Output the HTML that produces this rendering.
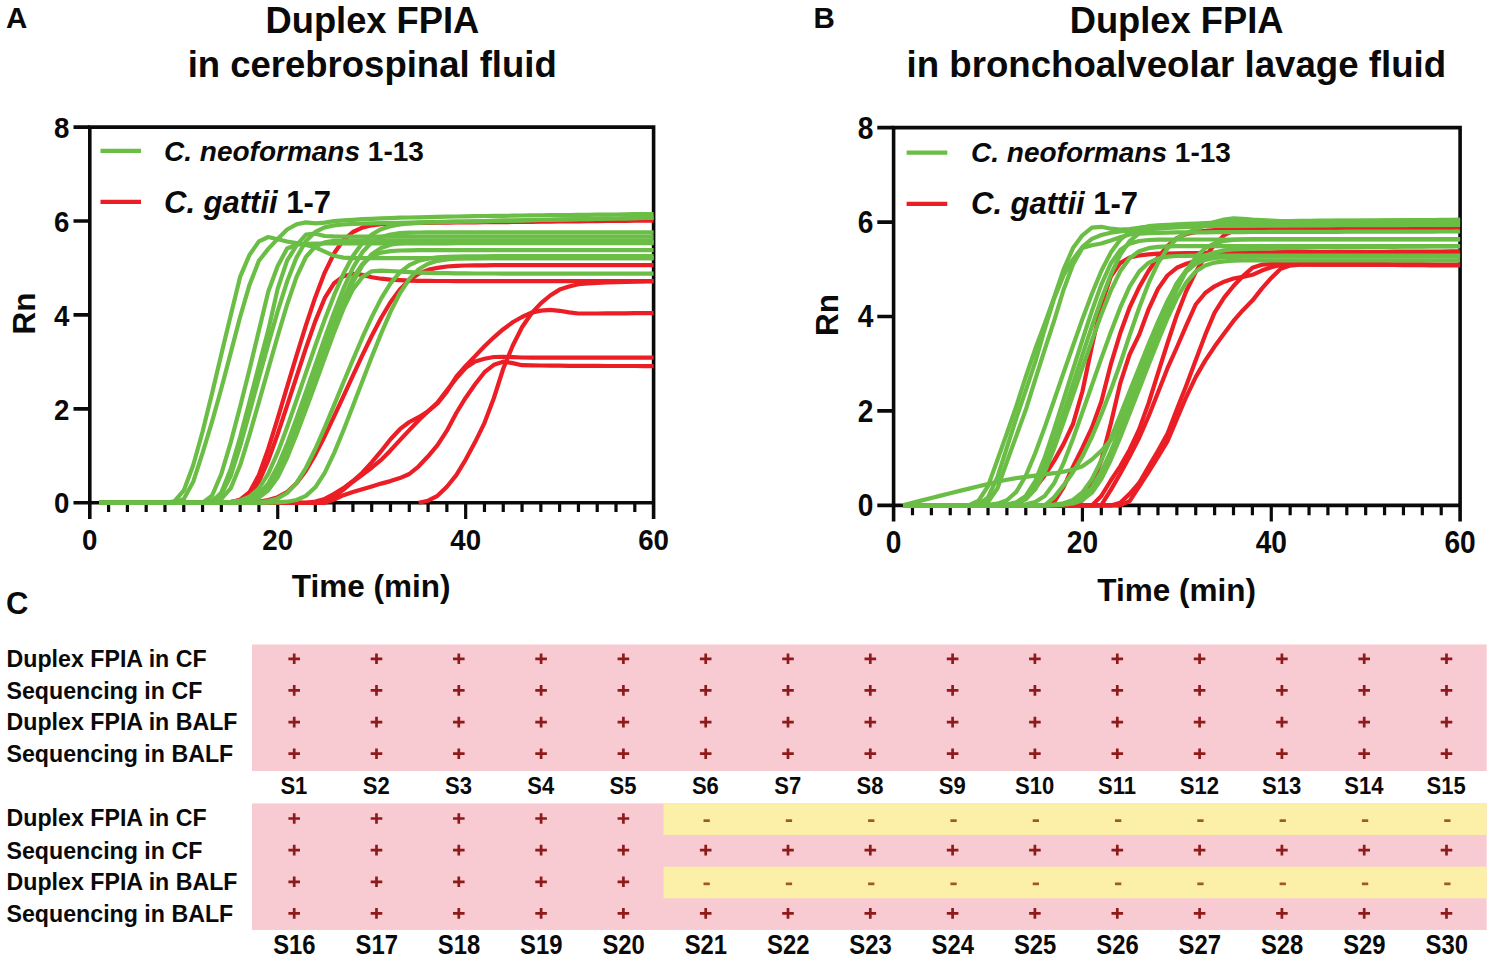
<!DOCTYPE html>
<html><head><meta charset="utf-8"><title>Duplex FPIA</title>
<style>
html,body{margin:0;padding:0;background:#fff;}
body{width:1494px;height:961px;overflow:hidden;}
svg{display:block;font-family:'Liberation Sans', sans-serif;}
text{fill:#0a0a0a;}
</style></head><body>
<svg width="1494" height="961" viewBox="0 0 1494 961">
<rect width="1494" height="961" fill="#fff"/>
<text x="5.9" y="27.7" font-size="29.5" font-weight="bold">A</text>
<text x="372.4" y="32.8" font-size="36.3" font-weight="bold" text-anchor="middle">Duplex FPIA</text>
<text x="372.2" y="76.6" font-size="36.5" font-weight="bold" text-anchor="middle">in cerebrospinal fluid</text>
<path d="M89.8,127.1 H653.6 V518.9 M89.8,125.3 V518.9" fill="none" stroke="#0a0a0a" stroke-width="3.6" stroke-linecap="butt" stroke-linejoin="miter"/>
<path d="M89.8,502.8 H653.6" stroke="#0a0a0a" stroke-width="3.6"/>
<path d="M73.5,502.8 H89.8 M73.5,408.9 H89.8 M73.5,314.9 H89.8 M73.5,221.0 H89.8 M73.5,127.1 H89.8 " stroke="#0a0a0a" stroke-width="3.6"/>
<path d="M108.59,502.8 V512.1 M127.39,502.8 V512.1 M146.18,502.8 V512.1 M164.97,502.8 V512.1 M183.77,502.8 V512.1 M202.56,502.8 V512.1 M221.35,502.8 V512.1 M240.15,502.8 V512.1 M258.94,502.8 V512.1 M277.73,502.8 V518.9 M296.53,502.8 V512.1 M315.32,502.8 V512.1 M334.11,502.8 V512.1 M352.91,502.8 V512.1 M371.70,502.8 V512.1 M390.49,502.8 V512.1 M409.29,502.8 V512.1 M428.08,502.8 V512.1 M446.87,502.8 V512.1 M465.67,502.8 V518.9 M484.46,502.8 V512.1 M503.25,502.8 V512.1 M522.05,502.8 V512.1 M540.84,502.8 V512.1 M559.63,502.8 V512.1 M578.43,502.8 V512.1 M597.22,502.8 V512.1 M616.01,502.8 V512.1 M634.81,502.8 V512.1 " stroke="#0a0a0a" stroke-width="3.2"/>
<text transform="translate(69.3,513.4) scale(0.97,1.04)" font-size="28.5" font-weight="bold" text-anchor="end">0</text>
<text transform="translate(69.3,419.5) scale(0.97,1.04)" font-size="28.5" font-weight="bold" text-anchor="end">2</text>
<text transform="translate(69.3,325.6) scale(0.97,1.04)" font-size="28.5" font-weight="bold" text-anchor="end">4</text>
<text transform="translate(69.3,231.6) scale(0.97,1.04)" font-size="28.5" font-weight="bold" text-anchor="end">6</text>
<text transform="translate(69.3,137.7) scale(0.97,1.04)" font-size="28.5" font-weight="bold" text-anchor="end">8</text>
<text transform="translate(89.8,549.8) scale(0.97,1.04)" font-size="28.5" font-weight="bold" text-anchor="middle">0</text>
<text transform="translate(277.7,549.8) scale(0.97,1.04)" font-size="28.5" font-weight="bold" text-anchor="middle">20</text>
<text transform="translate(465.7,549.8) scale(0.97,1.04)" font-size="28.5" font-weight="bold" text-anchor="middle">40</text>
<text transform="translate(653.6,549.8) scale(0.97,1.04)" font-size="28.5" font-weight="bold" text-anchor="middle">60</text>
<text x="371.1" y="597.2" font-size="31.5" font-weight="bold" text-anchor="middle">Time (min)</text>
<text transform="translate(34.9,313.5) rotate(-90)" font-size="31.5" font-weight="bold" text-anchor="middle">Rn</text>
<path d="M99.2,502.8 L108.6,502.8 L118.0,502.8 L127.4,502.8 L136.8,502.8 L146.2,502.8 L155.6,502.8 L165.0,502.8 L174.4,502.8 L183.8,502.8 L193.2,502.8 L202.6,502.8 L212.0,502.8 L221.4,502.7 L230.8,502.0 L240.1,499.7 L249.5,492.2 L258.9,475.0 L268.3,448.7 L277.7,418.4 L287.1,386.9 L296.5,355.7 L305.9,325.4 L315.3,297.2 L324.7,272.6 L334.1,253.3 L343.5,240.0 L352.9,232.0 L362.3,227.6 L371.7,225.3 L381.1,224.2 L390.5,223.6 L399.9,223.3 L409.3,223.1 L418.7,223.0 L428.1,222.8 L437.5,222.7 L446.9,222.6 L456.3,222.5 L465.7,222.4 L475.1,222.3 L484.5,222.2 L493.9,222.2 L503.3,222.1 L512.7,222.0 L522.0,221.9 L531.4,221.8 L540.8,221.7 L550.2,221.6 L559.6,221.5 L569.0,221.4 L578.4,221.3 L587.8,221.2 L597.2,221.1 L606.6,221.0 L616.0,220.9 L625.4,220.8 L634.8,220.7 L644.2,220.6 L653.6,220.6" fill="none" stroke="#eb1d25" stroke-width="4.2" stroke-linejoin="round" stroke-linecap="butt"/>
<path d="M99.2,502.8 L108.6,502.8 L118.0,502.8 L127.4,502.8 L136.8,502.8 L146.2,502.8 L155.6,502.8 L165.0,502.8 L174.4,502.8 L183.8,502.8 L193.2,502.8 L202.6,502.8 L212.0,502.8 L221.4,502.6 L230.8,502.0 L240.1,500.2 L249.5,494.6 L258.9,481.7 L268.3,460.4 L277.7,434.0 L287.1,405.6 L296.5,376.8 L305.9,348.2 L315.3,321.1 L324.7,298.2 L334.1,283.2 L343.5,276.2 L352.9,273.8 L362.3,274.8 L371.7,277.2 L381.1,278.7 L390.5,279.7 L399.9,280.2 L409.3,280.6 L418.7,280.8 L428.1,280.9 L437.5,281.0 L446.9,281.0 L456.3,281.1 L465.7,281.1 L475.1,281.1 L484.5,281.1 L493.9,281.1 L503.3,281.1 L512.7,281.1 L522.0,281.1 L531.4,281.1 L540.8,281.1 L550.2,281.1 L559.6,281.1 L569.0,281.1 L578.4,281.1 L587.8,281.1 L597.2,281.1 L606.6,281.1 L616.0,281.1 L625.4,281.1 L634.8,281.1 L644.2,281.1 L653.6,281.1" fill="none" stroke="#eb1d25" stroke-width="4.2" stroke-linejoin="round" stroke-linecap="butt"/>
<path d="M99.2,502.8 L108.6,502.8 L118.0,502.8 L127.4,502.8 L136.8,502.8 L146.2,502.8 L155.6,502.8 L165.0,502.8 L174.4,502.8 L183.8,502.8 L193.2,502.8 L202.6,502.8 L212.0,502.8 L221.4,502.8 L230.8,502.7 L240.1,502.5 L249.5,502.2 L258.9,501.5 L268.3,500.1 L277.7,497.2 L287.1,492.0 L296.5,483.3 L305.9,470.7 L315.3,454.6 L324.7,436.2 L334.1,416.4 L343.5,396.1 L352.9,375.6 L362.3,355.4 L371.7,336.0 L381.1,318.0 L390.5,302.2 L399.9,289.4 L409.3,280.0 L418.7,273.7 L428.1,269.9 L437.5,267.8 L446.9,266.5 L456.3,265.9 L465.7,265.5 L475.1,265.4 L484.5,265.3 L493.9,265.2 L503.3,265.2 L512.7,265.2 L522.0,265.2 L531.4,265.2 L540.8,265.2 L550.2,265.2 L559.6,265.2 L569.0,265.2 L578.4,265.2 L587.8,265.2 L597.2,265.2 L606.6,265.2 L616.0,265.2 L625.4,265.2 L634.8,265.2 L644.2,265.2 L653.6,265.2" fill="none" stroke="#eb1d25" stroke-width="4.2" stroke-linejoin="round" stroke-linecap="butt"/>
<path d="M99.2,502.8 L108.6,502.8 L118.0,502.8 L127.4,502.8 L136.8,502.8 L146.2,502.8 L155.6,502.8 L165.0,502.8 L174.4,502.8 L183.8,502.8 L193.2,502.8 L202.6,502.8 L212.0,502.8 L221.4,502.8 L230.8,502.8 L240.1,502.8 L249.5,502.8 L258.9,502.8 L268.3,502.8 L277.7,502.8 L287.1,502.8 L296.5,502.8 L305.9,502.8 L315.3,501.6 L324.7,498.9 L334.1,493.9 L343.5,488.1 L352.9,481.0 L362.3,472.7 L371.7,462.4 L381.1,451.2 L390.5,439.2 L399.9,429.2 L409.3,422.0 L418.7,417.2 L428.1,411.2 L437.5,403.5 L446.9,391.6 L456.3,376.7 L465.7,366.0 L475.1,356.1 L484.5,346.2 L493.9,337.3 L503.3,329.2 L512.7,322.3 L522.0,317.0 L531.4,312.7 L540.8,310.6 L550.2,309.8 L559.6,310.8 L569.0,312.4 L578.4,313.5 L587.8,313.5 L597.2,313.5 L606.6,313.4 L616.0,313.4 L625.4,313.3 L634.8,313.2 L644.2,313.1 L653.6,313.1" fill="none" stroke="#eb1d25" stroke-width="4.2" stroke-linejoin="round" stroke-linecap="butt"/>
<path d="M99.2,502.8 L108.6,502.8 L118.0,502.8 L127.4,502.8 L136.8,502.8 L146.2,502.8 L155.6,502.8 L165.0,502.8 L174.4,502.8 L183.8,502.8 L193.2,502.8 L202.6,502.8 L212.0,502.8 L221.4,502.8 L230.8,502.8 L240.1,502.8 L249.5,502.8 L258.9,502.8 L268.3,502.8 L277.7,502.8 L287.1,502.8 L296.5,502.8 L305.9,502.8 L315.3,502.8 L324.7,500.8 L334.1,496.7 L343.5,489.6 L352.9,481.7 L362.3,474.7 L371.7,467.7 L381.1,459.9 L390.5,450.4 L399.9,440.1 L409.3,430.1 L418.7,420.3 L428.1,411.2 L437.5,402.6 L446.9,390.2 L456.3,378.4 L465.7,367.8 L475.1,361.4 L484.5,358.7 L493.9,357.0 L503.3,356.8 L512.7,357.1 L522.0,357.5 L531.4,357.7 L540.8,357.7 L550.2,357.7 L559.6,357.7 L569.0,357.7 L578.4,357.7 L587.8,357.7 L597.2,357.7 L606.6,357.7 L616.0,357.7 L625.4,357.7 L634.8,357.7 L644.2,357.7 L653.6,357.7" fill="none" stroke="#eb1d25" stroke-width="4.2" stroke-linejoin="round" stroke-linecap="butt"/>
<path d="M99.2,502.8 L108.6,502.8 L118.0,502.8 L127.4,502.8 L136.8,502.8 L146.2,502.8 L155.6,502.8 L165.0,502.8 L174.4,502.8 L183.8,502.8 L193.2,502.8 L202.6,502.8 L212.0,502.8 L221.4,502.8 L230.8,502.8 L240.1,502.8 L249.5,502.8 L258.9,502.8 L268.3,502.8 L277.7,502.8 L287.1,502.8 L296.5,502.8 L305.9,502.8 L315.3,502.8 L324.7,502.8 L334.1,499.5 L343.5,495.2 L352.9,492.1 L362.3,489.3 L371.7,486.4 L381.1,483.6 L390.5,481.1 L399.9,478.1 L409.3,474.0 L418.7,466.3 L428.1,456.3 L437.5,445.2 L446.9,430.7 L456.3,413.0 L465.7,397.7 L475.1,384.3 L484.5,372.2 L493.9,364.8 L503.3,361.7 L512.7,363.1 L522.0,365.2 L531.4,365.4 L540.8,365.5 L550.2,365.6 L559.6,365.7 L569.0,365.8 L578.4,365.8 L587.8,365.9 L597.2,365.9 L606.6,366.0 L616.0,366.0 L625.4,366.0 L634.8,366.0 L644.2,366.1 L653.6,366.1" fill="none" stroke="#eb1d25" stroke-width="4.2" stroke-linejoin="round" stroke-linecap="butt"/>
<path d="M418.7,502.8 L428.1,500.7 L437.5,495.8 L446.9,486.7 L456.3,475.1 L465.7,459.6 L475.1,442.1 L484.5,422.8 L493.9,398.0 L503.3,368.5 L512.7,345.8 L522.0,327.2 L531.4,313.5 L540.8,303.4 L550.2,295.5 L559.6,289.6 L569.0,286.5 L578.4,284.2 L587.8,283.4 L597.2,282.9 L606.6,282.5 L616.0,282.2 L625.4,281.9 L634.8,281.7 L644.2,281.4 L653.6,281.1" fill="none" stroke="#eb1d25" stroke-width="4.2" stroke-linejoin="round" stroke-linecap="butt"/>
<path d="M99.2,502.8 L108.6,502.8 L118.0,502.8 L127.4,502.8 L136.8,502.8 L146.2,502.8 L155.6,502.8 L165.0,502.8 L174.4,501.4 L183.8,490.4 L193.2,465.2 L202.6,431.5 L212.0,393.5 L221.4,354.1 L230.8,314.9 L240.1,276.9 L249.5,254.9 L258.9,241.4 L268.3,237.0 L277.7,239.2 L287.1,241.5 L296.5,243.1 L305.9,244.9 L315.3,247.3 L324.7,251.6 L334.1,255.8 L343.5,257.6 L352.9,258.1 L362.3,258.1 L371.7,258.1 L381.1,258.1 L390.5,258.1 L399.9,258.1 L409.3,258.1 L418.7,258.1 L428.1,258.1 L437.5,258.1 L446.9,258.1 L456.3,258.1 L465.7,258.1 L475.1,258.1 L484.5,258.1 L493.9,258.1 L503.3,258.1 L512.7,258.1 L522.0,258.1 L531.4,258.1 L540.8,258.1 L550.2,258.1 L559.6,258.1 L569.0,258.1 L578.4,258.1 L587.8,258.1 L597.2,258.1 L606.6,258.1 L616.0,258.1 L625.4,258.1 L634.8,258.1 L644.2,258.1 L653.6,258.1" fill="none" stroke="#6abd45" stroke-width="4.2" stroke-linejoin="round" stroke-linecap="butt"/>
<path d="M99.2,502.8 L108.6,502.8 L118.0,502.8 L127.4,502.8 L136.8,502.8 L146.2,502.8 L155.6,502.8 L165.0,502.8 L174.4,502.8 L183.8,498.9 L193.2,481.8 L202.6,452.9 L212.0,421.9 L221.4,388.3 L230.8,352.6 L240.1,317.0 L249.5,284.9 L258.9,260.8 L268.3,248.9 L277.7,238.9 L287.1,229.5 L296.5,224.3 L305.9,222.4 L315.3,223.4 L324.7,222.6 L334.1,221.2 L343.5,220.3 L352.9,219.8 L362.3,219.2 L371.7,218.8 L381.1,218.4 L390.5,218.1 L399.9,217.7 L409.3,217.5 L418.7,217.3 L428.1,217.1 L437.5,216.8 L446.9,216.7 L456.3,216.5 L465.7,216.3 L475.1,216.2 L484.5,216.0 L493.9,215.9 L503.3,215.8 L512.7,215.7 L522.0,215.5 L531.4,215.4 L540.8,215.3 L550.2,215.2 L559.6,215.1 L569.0,215.0 L578.4,214.9 L587.8,214.8 L597.2,214.7 L606.6,214.6 L616.0,214.5 L625.4,214.4 L634.8,214.2 L644.2,214.1 L653.6,214.0" fill="none" stroke="#6abd45" stroke-width="4.2" stroke-linejoin="round" stroke-linecap="butt"/>
<path d="M99.2,502.8 L108.6,502.8 L118.0,502.8 L127.4,502.8 L136.8,502.8 L146.2,502.8 L155.6,502.8 L165.0,502.8 L174.4,502.8 L183.8,502.8 L193.2,502.8 L202.6,502.6 L212.0,495.8 L221.4,473.7 L230.8,442.1 L240.1,406.7 L249.5,369.5 L258.9,330.5 L268.3,291.4 L277.7,266.1 L287.1,248.5 L296.5,244.7 L305.9,243.9 L315.3,243.6 L324.7,243.5 L334.1,243.5 L343.5,243.5 L352.9,243.4 L362.3,243.4 L371.7,243.4 L381.1,243.4 L390.5,243.3 L399.9,243.3 L409.3,243.3 L418.7,243.3 L428.1,243.3 L437.5,243.3 L446.9,243.3 L456.3,243.2 L465.7,243.2 L475.1,243.2 L484.5,243.2 L493.9,243.2 L503.3,243.2 L512.7,243.2 L522.0,243.2 L531.4,243.2 L540.8,243.2 L550.2,243.2 L559.6,243.2 L569.0,243.2 L578.4,243.2 L587.8,243.1 L597.2,243.1 L606.6,243.1 L616.0,243.1 L625.4,243.1 L634.8,243.1 L644.2,243.1 L653.6,243.1" fill="none" stroke="#6abd45" stroke-width="4.2" stroke-linejoin="round" stroke-linecap="butt"/>
<path d="M99.2,502.8 L108.6,502.8 L118.0,502.8 L127.4,502.8 L136.8,502.8 L146.2,502.8 L155.6,502.8 L165.0,502.8 L174.4,502.8 L183.8,502.8 L193.2,502.8 L202.6,502.8 L212.0,501.9 L221.4,492.4 L230.8,468.8 L240.1,437.4 L249.5,401.8 L258.9,365.5 L268.3,330.1 L277.7,288.6 L287.1,260.7 L296.5,245.4 L305.9,234.6 L315.3,233.7 L324.7,236.0 L334.1,236.4 L343.5,236.5 L352.9,236.5 L362.3,236.5 L371.7,236.5 L381.1,236.5 L390.5,236.5 L399.9,236.5 L409.3,236.5 L418.7,236.5 L428.1,236.5 L437.5,236.5 L446.9,236.5 L456.3,236.5 L465.7,236.5 L475.1,236.5 L484.5,236.5 L493.9,236.5 L503.3,236.5 L512.7,236.5 L522.0,236.5 L531.4,236.5 L540.8,236.5 L550.2,236.5 L559.6,236.5 L569.0,236.5 L578.4,236.5 L587.8,236.5 L597.2,236.5 L606.6,236.5 L616.0,236.5 L625.4,236.5 L634.8,236.5 L644.2,236.5 L653.6,236.5" fill="none" stroke="#6abd45" stroke-width="4.2" stroke-linejoin="round" stroke-linecap="butt"/>
<path d="M99.2,502.8 L108.6,502.8 L118.0,502.8 L127.4,502.8 L136.8,502.8 L146.2,502.8 L155.6,502.8 L165.0,502.8 L174.4,502.8 L183.8,502.8 L193.2,502.8 L202.6,502.4 L212.0,500.9 L221.4,494.3 L230.8,475.7 L240.1,446.1 L249.5,412.4 L258.9,377.9 L268.3,343.9 L277.7,311.2 L287.1,281.6 L296.5,257.6 L305.9,241.1 L315.3,231.9 L324.7,227.4 L334.1,225.4 L343.5,224.5 L352.9,223.9 L362.3,223.7 L371.7,223.4 L381.1,223.2 L390.5,223.0 L399.9,222.8 L409.3,222.6 L418.7,222.4 L428.1,222.2 L437.5,222.1 L446.9,221.9 L456.3,221.7 L465.7,221.5 L475.1,221.3 L484.5,221.1 L493.9,220.9 L503.3,220.7 L512.7,220.6 L522.0,220.4 L531.4,220.2 L540.8,220.0 L550.2,219.8 L559.6,219.6 L569.0,219.4 L578.4,219.2 L587.8,219.1 L597.2,218.9 L606.6,218.7 L616.0,218.5 L625.4,218.3 L634.8,218.1 L644.2,217.9 L653.6,217.7" fill="none" stroke="#6abd45" stroke-width="4.2" stroke-linejoin="round" stroke-linecap="butt"/>
<path d="M99.2,502.8 L108.6,502.8 L118.0,502.8 L127.4,502.8 L136.8,502.8 L146.2,502.8 L155.6,502.8 L165.0,502.8 L174.4,502.8 L183.8,502.8 L193.2,502.8 L202.6,502.6 L212.0,502.0 L221.4,498.9 L230.8,488.1 L240.1,465.3 L249.5,434.9 L258.9,402.1 L268.3,368.9 L277.7,336.0 L287.1,304.6 L296.5,277.0 L305.9,257.0 L315.3,246.5 L324.7,242.3 L334.1,240.9 L343.5,240.5 L352.9,240.3 L362.3,240.3 L371.7,240.3 L381.1,240.3 L390.5,240.3 L399.9,240.3 L409.3,240.3 L418.7,240.3 L428.1,240.3 L437.5,240.3 L446.9,240.3 L456.3,240.3 L465.7,240.3 L475.1,240.3 L484.5,240.3 L493.9,240.3 L503.3,240.3 L512.7,240.3 L522.0,240.3 L531.4,240.3 L540.8,240.3 L550.2,240.3 L559.6,240.3 L569.0,240.3 L578.4,240.3 L587.8,240.3 L597.2,240.3 L606.6,240.3 L616.0,240.3 L625.4,240.3 L634.8,240.3 L644.2,240.3 L653.6,240.3" fill="none" stroke="#6abd45" stroke-width="4.2" stroke-linejoin="round" stroke-linecap="butt"/>
<path d="M99.2,502.8 L108.6,502.8 L118.0,502.8 L127.4,502.8 L136.8,502.8 L146.2,502.8 L155.6,502.8 L165.0,502.8 L174.4,502.8 L183.8,502.8 L193.2,502.8 L202.6,502.8 L212.0,502.8 L221.4,502.5 L230.8,502.0 L240.1,500.5 L249.5,496.7 L258.9,488.5 L268.3,473.6 L277.7,452.4 L287.1,427.2 L296.5,400.3 L305.9,372.9 L315.3,345.8 L324.7,319.6 L334.1,295.2 L343.5,273.6 L352.9,256.1 L362.3,243.1 L371.7,234.5 L381.1,229.2 L390.5,226.2 L399.9,224.5 L409.3,223.5 L418.7,222.9 L428.1,222.5 L437.5,222.2 L446.9,221.9 L456.3,221.7 L465.7,221.5 L475.1,221.3 L484.5,221.1 L493.9,220.9 L503.3,220.7 L512.7,220.6 L522.0,220.4 L531.4,220.2 L540.8,220.0 L550.2,219.8 L559.6,219.6 L569.0,219.4 L578.4,219.2 L587.8,219.1 L597.2,218.9 L606.6,218.7 L616.0,218.5 L625.4,218.3 L634.8,218.1 L644.2,217.9 L653.6,217.7" fill="none" stroke="#6abd45" stroke-width="4.2" stroke-linejoin="round" stroke-linecap="butt"/>
<path d="M99.2,502.8 L108.6,502.8 L118.0,502.8 L127.4,502.8 L136.8,502.8 L146.2,502.8 L155.6,502.8 L165.0,502.8 L174.4,502.8 L183.8,502.8 L193.2,502.8 L202.6,502.8 L212.0,502.8 L221.4,502.6 L230.8,502.2 L240.1,501.3 L249.5,499.1 L258.9,493.8 L268.3,483.3 L277.7,466.2 L287.1,443.9 L296.5,418.6 L305.9,392.0 L315.3,365.1 L324.7,338.3 L334.1,312.4 L343.5,288.4 L352.9,267.8 L362.3,252.3 L371.7,242.4 L381.1,237.1 L390.5,234.5 L399.9,233.2 L409.3,232.7 L418.7,232.5 L428.1,232.4 L437.5,232.3 L446.9,232.3 L456.3,232.3 L465.7,232.3 L475.1,232.3 L484.5,232.3 L493.9,232.3 L503.3,232.3 L512.7,232.3 L522.0,232.3 L531.4,232.3 L540.8,232.3 L550.2,232.3 L559.6,232.3 L569.0,232.3 L578.4,232.3 L587.8,232.3 L597.2,232.3 L606.6,232.3 L616.0,232.3 L625.4,232.3 L634.8,232.3 L644.2,232.3 L653.6,232.3" fill="none" stroke="#6abd45" stroke-width="4.2" stroke-linejoin="round" stroke-linecap="butt"/>
<path d="M99.2,502.8 L108.6,502.8 L118.0,502.8 L127.4,502.8 L136.8,502.8 L146.2,502.8 L155.6,502.8 L165.0,502.8 L174.4,502.8 L183.8,502.8 L193.2,502.8 L202.6,502.8 L212.0,502.7 L221.4,502.6 L230.8,502.2 L240.1,501.4 L249.5,499.5 L258.9,495.2 L268.3,486.7 L277.7,472.3 L287.1,452.2 L296.5,428.3 L305.9,402.3 L315.3,375.6 L324.7,348.8 L334.1,322.7 L343.5,298.4 L352.9,278.2 L362.3,264.1 L371.7,256.2 L381.1,252.6 L390.5,251.1 L399.9,250.5 L409.3,250.3 L418.7,250.2 L428.1,250.1 L437.5,250.1 L446.9,250.1 L456.3,250.1 L465.7,250.1 L475.1,250.1 L484.5,250.1 L493.9,250.1 L503.3,250.1 L512.7,250.1 L522.0,250.1 L531.4,250.1 L540.8,250.1 L550.2,250.1 L559.6,250.1 L569.0,250.1 L578.4,250.1 L587.8,250.1 L597.2,250.1 L606.6,250.1 L616.0,250.1 L625.4,250.1 L634.8,250.1 L644.2,250.1 L653.6,250.1" fill="none" stroke="#6abd45" stroke-width="4.2" stroke-linejoin="round" stroke-linecap="butt"/>
<path d="M99.2,502.8 L108.6,502.8 L118.0,502.8 L127.4,502.8 L136.8,502.8 L146.2,502.8 L155.6,502.8 L165.0,502.8 L174.4,502.8 L183.8,502.8 L193.2,502.8 L202.6,502.8 L212.0,502.7 L221.4,502.5 L230.8,502.0 L240.1,501.1 L249.5,499.1 L258.9,494.9 L268.3,487.1 L277.7,474.2 L287.1,456.1 L296.5,434.1 L305.9,409.6 L315.3,384.0 L324.7,358.0 L334.1,332.4 L343.5,308.7 L352.9,289.4 L362.3,277.1 L371.7,271.3 L381.1,270.6 L390.5,271.0 L399.9,271.7 L409.3,272.2 L418.7,272.6 L428.1,272.9 L437.5,273.1 L446.9,273.2 L456.3,273.3 L465.7,273.4 L475.1,273.5 L484.5,273.5 L493.9,273.5 L503.3,273.6 L512.7,273.6 L522.0,273.6 L531.4,273.6 L540.8,273.6 L550.2,273.6 L559.6,273.6 L569.0,273.6 L578.4,273.6 L587.8,273.6 L597.2,273.6 L606.6,273.6 L616.0,273.6 L625.4,273.6 L634.8,273.6 L644.2,273.6 L653.6,273.6" fill="none" stroke="#6abd45" stroke-width="4.2" stroke-linejoin="round" stroke-linecap="butt"/>
<path d="M99.2,502.8 L108.6,502.8 L118.0,502.8 L127.4,502.8 L136.8,502.8 L146.2,502.8 L155.6,502.8 L165.0,502.8 L174.4,502.8 L183.8,502.8 L193.2,502.8 L202.6,502.8 L212.0,502.8 L221.4,502.8 L230.8,502.8 L240.1,502.7 L249.5,502.5 L258.9,502.0 L268.3,501.0 L277.7,498.4 L287.1,493.0 L296.5,483.1 L305.9,468.0 L315.3,449.0 L324.7,427.6 L334.1,405.1 L343.5,382.3 L352.9,359.8 L362.3,337.7 L371.7,317.1 L381.1,298.6 L390.5,283.4 L399.9,272.3 L409.3,265.1 L418.7,260.8 L428.1,258.6 L437.5,257.4 L446.9,256.8 L456.3,256.5 L465.7,256.4 L475.1,256.3 L484.5,256.3 L493.9,256.2 L503.3,256.2 L512.7,256.2 L522.0,256.2 L531.4,256.2 L540.8,256.2 L550.2,256.2 L559.6,256.2 L569.0,256.2 L578.4,256.2 L587.8,256.2 L597.2,256.2 L606.6,256.2 L616.0,256.2 L625.4,256.2 L634.8,256.2 L644.2,256.2 L653.6,256.2" fill="none" stroke="#6abd45" stroke-width="4.2" stroke-linejoin="round" stroke-linecap="butt"/>
<path d="M99.2,502.8 L108.6,502.8 L118.0,502.8 L127.4,502.8 L136.8,502.8 L146.2,502.8 L155.6,502.8 L165.0,502.8 L174.4,502.8 L183.8,502.8 L193.2,502.8 L202.6,502.8 L212.0,502.8 L221.4,502.8 L230.8,502.8 L240.1,502.8 L249.5,502.8 L258.9,502.8 L268.3,502.7 L277.7,502.4 L287.1,501.7 L296.5,500.0 L305.9,495.9 L315.3,487.3 L324.7,472.8 L334.1,453.1 L343.5,430.3 L352.9,406.1 L362.3,381.5 L371.7,357.1 L381.1,333.6 L390.5,311.9 L399.9,293.3 L409.3,278.9 L418.7,269.3 L428.1,263.8 L437.5,260.8 L446.9,259.4 L456.3,258.7 L465.7,258.4 L475.1,258.3 L484.5,258.2 L493.9,258.2 L503.3,258.1 L512.7,258.1 L522.0,258.1 L531.4,258.1 L540.8,258.1 L550.2,258.1 L559.6,258.1 L569.0,258.1 L578.4,258.1 L587.8,258.1 L597.2,258.1 L606.6,258.1 L616.0,258.1 L625.4,258.1 L634.8,258.1 L644.2,258.1 L653.6,258.1" fill="none" stroke="#6abd45" stroke-width="4.2" stroke-linejoin="round" stroke-linecap="butt"/>
<path d="M99.2,502.8 L108.6,502.8 L118.0,502.8 L127.4,502.8 L136.8,502.8 L146.2,502.8 L155.6,502.8 L165.0,502.8 L174.4,502.8 L183.8,502.8 L193.2,502.8 L202.6,502.8 L212.0,502.8 L221.4,502.7 L230.8,502.5 L240.1,502.0 L249.5,500.7 L258.9,497.5 L268.3,490.4 L277.7,477.3 L287.1,457.8 L296.5,434.0 L305.9,408.1 L315.3,381.4 L324.7,354.6 L334.1,328.4 L343.5,303.8 L352.9,282.3 L362.3,265.5 L371.7,254.2 L381.1,247.9 L390.5,244.8 L399.9,243.3 L409.3,242.7 L418.7,242.4 L428.1,242.3 L437.5,242.2 L446.9,242.2 L456.3,242.2 L465.7,242.2 L475.1,242.2 L484.5,242.2 L493.9,242.2 L503.3,242.2 L512.7,242.2 L522.0,242.2 L531.4,242.2 L540.8,242.2 L550.2,242.2 L559.6,242.2 L569.0,242.2 L578.4,242.2 L587.8,242.2 L597.2,242.2 L606.6,242.2 L616.0,242.2 L625.4,242.2 L634.8,242.2 L644.2,242.2 L653.6,242.2" fill="none" stroke="#6abd45" stroke-width="4.2" stroke-linejoin="round" stroke-linecap="butt"/>
<path d="M100.5,150.9 H141.0" stroke="#6abd45" stroke-width="4.2"/>
<path d="M100.5,201.9 H141.0" stroke="#eb1d25" stroke-width="4.2"/>
<text x="164.0" y="161.1" font-size="28" font-weight="bold"><tspan font-style="italic">C. neoformans</tspan> 1-13</text>
<text x="164.0" y="212.5" font-size="31" font-weight="bold"><tspan font-style="italic">C. gattii</tspan> 1-7</text>
<text x="813.6" y="27.7" font-size="29.5" font-weight="bold">B</text>
<text x="1176.6" y="33.2" font-size="36.3" font-weight="bold" text-anchor="middle">Duplex FPIA</text>
<text x="1176.3" y="77.4" font-size="36.65" font-weight="bold" text-anchor="middle">in bronchoalveolar lavage fluid</text>
<path d="M893.6,127.6 H1460.1 V521.6 M893.6,125.8 V521.6" fill="none" stroke="#0a0a0a" stroke-width="3.6" stroke-linecap="butt" stroke-linejoin="miter"/>
<path d="M893.6,505.4 H1460.1" stroke="#0a0a0a" stroke-width="3.6"/>
<path d="M877.3,505.4 H893.6 M877.3,410.9 H893.6 M877.3,316.5 H893.6 M877.3,222.1 H893.6 M877.3,127.6 H893.6 " stroke="#0a0a0a" stroke-width="3.6"/>
<path d="M912.48,505.4 V515.2 M931.37,505.4 V515.2 M950.25,505.4 V515.2 M969.13,505.4 V515.2 M988.02,505.4 V515.2 M1006.90,505.4 V515.2 M1025.78,505.4 V515.2 M1044.67,505.4 V515.2 M1063.55,505.4 V515.2 M1082.43,505.4 V521.6 M1101.32,505.4 V515.2 M1120.20,505.4 V515.2 M1139.08,505.4 V515.2 M1157.97,505.4 V515.2 M1176.85,505.4 V515.2 M1195.73,505.4 V515.2 M1214.62,505.4 V515.2 M1233.50,505.4 V515.2 M1252.38,505.4 V515.2 M1271.27,505.4 V521.6 M1290.15,505.4 V515.2 M1309.03,505.4 V515.2 M1327.92,505.4 V515.2 M1346.80,505.4 V515.2 M1365.68,505.4 V515.2 M1384.57,505.4 V515.2 M1403.45,505.4 V515.2 M1422.33,505.4 V515.2 M1441.22,505.4 V515.2 " stroke="#0a0a0a" stroke-width="3.2"/>
<text transform="translate(873.3,516.3) scale(0.97,1.05)" font-size="29" font-weight="bold" text-anchor="end">0</text>
<text transform="translate(873.3,421.9) scale(0.97,1.05)" font-size="29" font-weight="bold" text-anchor="end">2</text>
<text transform="translate(873.3,327.4) scale(0.97,1.05)" font-size="29" font-weight="bold" text-anchor="end">4</text>
<text transform="translate(873.3,233.0) scale(0.97,1.05)" font-size="29" font-weight="bold" text-anchor="end">6</text>
<text transform="translate(873.3,138.5) scale(0.97,1.05)" font-size="29" font-weight="bold" text-anchor="end">8</text>
<text transform="translate(893.6,552.9) scale(0.97,1.05)" font-size="29" font-weight="bold" text-anchor="middle">0</text>
<text transform="translate(1082.4,552.9) scale(0.97,1.05)" font-size="29" font-weight="bold" text-anchor="middle">20</text>
<text transform="translate(1271.3,552.9) scale(0.97,1.05)" font-size="29" font-weight="bold" text-anchor="middle">40</text>
<text transform="translate(1460.1,552.9) scale(0.97,1.05)" font-size="29" font-weight="bold" text-anchor="middle">60</text>
<text x="1176.7" y="600.8" font-size="31.5" font-weight="bold" text-anchor="middle">Time (min)</text>
<text transform="translate(838.3,315.0) rotate(-90)" font-size="31.5" font-weight="bold" text-anchor="middle">Rn</text>
<path d="M903.0,505.4 L912.5,505.4 L921.9,505.4 L931.4,505.4 L940.8,505.4 L950.2,505.4 L959.7,505.4 L969.1,505.4 L978.6,505.4 L988.0,505.4 L997.5,505.4 L1006.9,505.4 L1016.3,504.3 L1025.8,498.3 L1035.2,488.1 L1044.7,475.4 L1054.1,460.9 L1063.5,444.1 L1073.0,424.0 L1082.4,391.5 L1091.9,346.2 L1101.3,304.8 L1110.8,276.5 L1120.2,263.1 L1129.6,257.5 L1139.1,255.5 L1148.5,254.3 L1158.0,253.7 L1167.4,253.5 L1176.8,253.4 L1186.3,253.2 L1195.7,253.1 L1205.2,252.9 L1214.6,252.8 L1224.1,252.7 L1233.5,252.6 L1242.9,252.5 L1252.4,252.4 L1261.8,252.4 L1271.3,252.3 L1280.7,252.2 L1290.1,252.2 L1299.6,252.1 L1309.0,252.1 L1318.5,252.0 L1327.9,252.0 L1337.4,251.9 L1346.8,251.9 L1356.2,251.8 L1365.7,251.8 L1375.1,251.8 L1384.6,251.8 L1394.0,251.7 L1403.4,251.7 L1412.9,251.6 L1422.3,251.6 L1431.8,251.5 L1441.2,251.5 L1450.7,251.4 L1460.1,251.3" fill="none" stroke="#eb1d25" stroke-width="4.2" stroke-linejoin="round" stroke-linecap="butt"/>
<path d="M903.0,505.4 L912.5,505.4 L921.9,505.4 L931.4,505.4 L940.8,505.4 L950.2,505.4 L959.7,505.4 L969.1,505.4 L978.6,505.4 L988.0,505.4 L997.5,505.4 L1006.9,505.4 L1016.3,505.4 L1025.8,505.4 L1035.2,505.4 L1044.7,505.4 L1054.1,502.2 L1063.5,487.3 L1073.0,466.6 L1082.4,447.9 L1091.9,427.6 L1101.3,401.7 L1110.8,364.4 L1120.2,333.3 L1129.6,307.5 L1139.1,287.4 L1148.5,271.0 L1158.0,257.3 L1167.4,246.1 L1176.8,238.1 L1186.3,234.0 L1195.7,232.2 L1205.2,230.9 L1214.6,230.0 L1224.1,229.6 L1233.5,229.4 L1242.9,229.3 L1252.4,229.1 L1261.8,229.0 L1271.3,228.9 L1280.7,228.8 L1290.1,228.7 L1299.6,228.6 L1309.0,228.6 L1318.5,228.5 L1327.9,228.4 L1337.4,228.4 L1346.8,228.3 L1356.2,228.3 L1365.7,228.2 L1375.1,228.2 L1384.6,228.1 L1394.0,228.1 L1403.4,228.0 L1412.9,228.0 L1422.3,228.0 L1431.8,227.9 L1441.2,227.9 L1450.7,227.8 L1460.1,227.7" fill="none" stroke="#eb1d25" stroke-width="4.2" stroke-linejoin="round" stroke-linecap="butt"/>
<path d="M903.0,505.4 L912.5,505.4 L921.9,505.4 L931.4,505.4 L940.8,505.4 L950.2,505.4 L959.7,505.4 L969.1,505.4 L978.6,505.4 L988.0,505.4 L997.5,505.4 L1006.9,505.4 L1016.3,505.4 L1025.8,505.4 L1035.2,505.4 L1044.7,505.4 L1054.1,505.4 L1063.5,505.4 L1073.0,505.4 L1082.4,500.3 L1091.9,485.2 L1101.3,460.3 L1110.8,423.7 L1120.2,383.4 L1129.6,354.5 L1139.1,334.9 L1148.5,309.5 L1158.0,288.9 L1167.4,275.5 L1176.8,267.8 L1186.3,263.8 L1195.7,260.9 L1205.2,258.6 L1214.6,257.5 L1224.1,257.0 L1233.5,256.6 L1242.9,256.2 L1252.4,255.9 L1261.8,255.6 L1271.3,255.3 L1280.7,255.1 L1290.1,254.8 L1299.6,254.6 L1309.0,254.4 L1318.5,254.3 L1327.9,254.2 L1337.4,254.0 L1346.8,253.9 L1356.2,253.7 L1365.7,253.6 L1375.1,253.5 L1384.6,253.4 L1394.0,253.3 L1403.4,253.2 L1412.9,253.1 L1422.3,252.9 L1431.8,252.8 L1441.2,252.7 L1450.7,252.5 L1460.1,252.3" fill="none" stroke="#eb1d25" stroke-width="4.2" stroke-linejoin="round" stroke-linecap="butt"/>
<path d="M903.0,505.4 L912.5,505.4 L921.9,505.4 L931.4,505.4 L940.8,505.4 L950.2,505.4 L959.7,505.4 L969.1,505.4 L978.6,505.4 L988.0,505.4 L997.5,505.4 L1006.9,505.4 L1016.3,505.4 L1025.8,505.4 L1035.2,505.4 L1044.7,505.4 L1054.1,505.4 L1063.5,505.4 L1073.0,505.4 L1082.4,505.4 L1091.9,505.4 L1101.3,496.0 L1110.8,480.5 L1120.2,466.3 L1129.6,449.7 L1139.1,429.4 L1148.5,403.5 L1158.0,373.2 L1167.4,343.5 L1176.8,315.2 L1186.3,291.0 L1195.7,272.0 L1205.2,256.6 L1214.6,244.8 L1224.1,235.2 L1233.5,230.8 L1242.9,228.7 L1252.4,227.7 L1261.8,227.5 L1271.3,227.3 L1280.7,227.2 L1290.1,227.0 L1299.6,226.9 L1309.0,226.8 L1318.5,226.7 L1327.9,226.6 L1337.4,226.5 L1346.8,226.5 L1356.2,226.4 L1365.7,226.3 L1375.1,226.3 L1384.6,226.3 L1394.0,226.3 L1403.4,226.2 L1412.9,226.2 L1422.3,226.1 L1431.8,226.0 L1441.2,226.0 L1450.7,225.9 L1460.1,225.8" fill="none" stroke="#eb1d25" stroke-width="4.2" stroke-linejoin="round" stroke-linecap="butt"/>
<path d="M903.0,505.4 L912.5,505.4 L921.9,505.4 L931.4,505.4 L940.8,505.4 L950.2,505.4 L959.7,505.4 L969.1,505.4 L978.6,505.4 L988.0,505.4 L997.5,505.4 L1006.9,505.4 L1016.3,505.4 L1025.8,505.4 L1035.2,505.4 L1044.7,505.4 L1054.1,505.4 L1063.5,505.4 L1073.0,505.4 L1082.4,505.4 L1091.9,505.4 L1101.3,505.2 L1110.8,489.9 L1120.2,473.7 L1129.6,456.6 L1139.1,438.0 L1148.5,416.5 L1158.0,392.5 L1167.4,368.4 L1176.8,347.5 L1186.3,325.3 L1195.7,304.5 L1205.2,293.0 L1214.6,286.3 L1224.1,281.7 L1233.5,278.5 L1242.9,276.9 L1252.4,274.8 L1261.8,270.6 L1271.3,267.2 L1280.7,264.9 L1290.1,264.4 L1299.6,264.2 L1309.0,264.1 L1318.5,264.1 L1327.9,264.1 L1337.4,264.1 L1346.8,264.1 L1356.2,264.1 L1365.7,264.2 L1375.1,264.2 L1384.6,264.2 L1394.0,264.3 L1403.4,264.3 L1412.9,264.4 L1422.3,264.4 L1431.8,264.5 L1441.2,264.5 L1450.7,264.5 L1460.1,264.6" fill="none" stroke="#eb1d25" stroke-width="4.2" stroke-linejoin="round" stroke-linecap="butt"/>
<path d="M903.0,505.4 L912.5,505.4 L921.9,505.4 L931.4,505.4 L940.8,505.4 L950.2,505.4 L959.7,505.4 L969.1,505.4 L978.6,505.4 L988.0,505.4 L997.5,505.4 L1006.9,505.4 L1016.3,505.4 L1025.8,505.4 L1035.2,505.4 L1044.7,505.4 L1054.1,505.4 L1063.5,505.4 L1073.0,505.4 L1082.4,505.4 L1091.9,505.4 L1101.3,505.4 L1110.8,505.4 L1120.2,502.7 L1129.6,493.9 L1139.1,483.0 L1148.5,466.9 L1158.0,450.7 L1167.4,433.9 L1176.8,409.5 L1186.3,385.4 L1195.7,360.3 L1205.2,334.9 L1214.6,312.6 L1224.1,297.6 L1233.5,286.0 L1242.9,276.1 L1252.4,267.8 L1261.8,264.7 L1271.3,264.1 L1280.7,264.1 L1290.1,264.3 L1299.6,264.4 L1309.0,264.5 L1318.5,264.6 L1327.9,264.6 L1337.4,264.6 L1346.8,264.7 L1356.2,264.7 L1365.7,264.7 L1375.1,264.8 L1384.6,264.8 L1394.0,264.8 L1403.4,264.9 L1412.9,264.9 L1422.3,264.9 L1431.8,264.9 L1441.2,265.0 L1450.7,265.0 L1460.1,265.0" fill="none" stroke="#eb1d25" stroke-width="4.2" stroke-linejoin="round" stroke-linecap="butt"/>
<path d="M903.0,505.4 L912.5,505.4 L921.9,505.4 L931.4,505.4 L940.8,505.4 L950.2,505.4 L959.7,505.4 L969.1,505.4 L978.6,505.4 L988.0,505.4 L997.5,505.4 L1006.9,505.4 L1016.3,505.4 L1025.8,505.4 L1035.2,505.4 L1044.7,505.4 L1054.1,505.4 L1063.5,505.4 L1073.0,505.4 L1082.4,505.4 L1091.9,505.4 L1101.3,505.4 L1110.8,505.4 L1120.2,505.4 L1129.6,501.2 L1139.1,486.5 L1148.5,472.2 L1158.0,456.8 L1167.4,441.4 L1176.8,419.1 L1186.3,396.8 L1195.7,377.1 L1205.2,360.6 L1214.6,346.6 L1224.1,333.6 L1233.5,320.9 L1242.9,310.2 L1252.4,300.6 L1261.8,288.6 L1271.3,277.9 L1280.7,268.8 L1290.1,265.6 L1299.6,264.6 L1309.0,264.6 L1318.5,264.6 L1327.9,264.6 L1337.4,264.6 L1346.8,264.7 L1356.2,264.7 L1365.7,264.8 L1375.1,264.9 L1384.6,264.9 L1394.0,265.0 L1403.4,265.1 L1412.9,265.2 L1422.3,265.2 L1431.8,265.3 L1441.2,265.4 L1450.7,265.4 L1460.1,265.5" fill="none" stroke="#eb1d25" stroke-width="4.2" stroke-linejoin="round" stroke-linecap="butt"/>
<path d="M903.0,505.4 L912.5,505.4 L921.9,505.4 L931.4,505.4 L940.8,505.4 L950.2,505.4 L959.7,505.4 L969.1,505.2 L978.6,500.7 L988.0,486.1 L997.5,459.8 L1006.9,433.3 L1016.3,406.1 L1025.8,376.6 L1035.2,349.1 L1044.7,323.7 L1054.1,297.4 L1063.5,269.6 L1073.0,248.1 L1082.4,235.3 L1091.9,227.7 L1101.3,226.8 L1110.8,228.7 L1120.2,229.6 L1129.6,229.0 L1139.1,227.9 L1148.5,226.8 L1158.0,226.0 L1167.4,225.3 L1176.8,224.6 L1186.3,223.9 L1195.7,223.5 L1205.2,223.0 L1214.6,222.7 L1224.1,222.3 L1233.5,222.0 L1242.9,221.7 L1252.4,221.4 L1261.8,221.2 L1271.3,221.1 L1280.7,221.0 L1290.1,221.0 L1299.6,220.9 L1309.0,220.8 L1318.5,220.7 L1327.9,220.7 L1337.4,220.6 L1346.8,220.6 L1356.2,220.5 L1365.7,220.5 L1375.1,220.5 L1384.6,220.4 L1394.0,220.4 L1403.4,220.4 L1412.9,220.3 L1422.3,220.3 L1431.8,220.3 L1441.2,220.3 L1450.7,220.2 L1460.1,220.2" fill="none" stroke="#6abd45" stroke-width="4.2" stroke-linejoin="round" stroke-linecap="butt"/>
<path d="M903.0,505.4 L912.5,505.4 L921.9,505.4 L931.4,505.4 L940.8,505.4 L950.2,505.4 L959.7,505.4 L969.1,505.4 L978.6,504.6 L988.0,497.4 L997.5,476.8 L1006.9,447.5 L1016.3,418.1 L1025.8,390.4 L1035.2,362.2 L1044.7,329.2 L1054.1,298.7 L1063.5,275.4 L1073.0,259.4 L1082.4,246.9 L1091.9,238.9 L1101.3,235.0 L1110.8,232.7 L1120.2,231.4 L1129.6,230.5 L1139.1,229.7 L1148.5,229.1 L1158.0,228.6 L1167.4,228.0 L1176.8,227.5 L1186.3,227.0 L1195.7,226.6 L1205.2,226.2 L1214.6,226.0 L1224.1,225.8 L1233.5,225.7 L1242.9,225.7 L1252.4,225.6 L1261.8,225.5 L1271.3,225.5 L1280.7,225.5 L1290.1,225.4 L1299.6,225.4 L1309.0,225.3 L1318.5,225.3 L1327.9,225.3 L1337.4,225.2 L1346.8,225.2 L1356.2,225.2 L1365.7,225.2 L1375.1,225.1 L1384.6,225.1 L1394.0,225.1 L1403.4,225.1 L1412.9,225.0 L1422.3,225.0 L1431.8,225.0 L1441.2,224.9 L1450.7,224.9 L1460.1,224.9" fill="none" stroke="#6abd45" stroke-width="4.2" stroke-linejoin="round" stroke-linecap="butt"/>
<path d="M903.0,505.4 L912.5,505.4 L921.9,505.4 L931.4,505.4 L940.8,505.4 L950.2,505.4 L959.7,505.4 L969.1,505.4 L978.6,505.4 L988.0,502.1 L997.5,488.3 L1006.9,461.8 L1016.3,435.9 L1025.8,409.8 L1035.2,379.6 L1044.7,349.7 L1054.1,320.9 L1063.5,290.0 L1073.0,264.4 L1082.4,248.0 L1091.9,245.2 L1101.3,243.5 L1110.8,240.5 L1120.2,237.2 L1129.6,234.4 L1139.1,233.7 L1148.5,233.1 L1158.0,232.8 L1167.4,232.6 L1176.8,232.4 L1186.3,232.4 L1195.7,232.3 L1205.2,232.3 L1214.6,232.2 L1224.1,232.2 L1233.5,232.1 L1242.9,232.1 L1252.4,232.0 L1261.8,232.0 L1271.3,231.9 L1280.7,231.9 L1290.1,231.9 L1299.6,231.9 L1309.0,231.8 L1318.5,231.8 L1327.9,231.8 L1337.4,231.8 L1346.8,231.7 L1356.2,231.7 L1365.7,231.7 L1375.1,231.7 L1384.6,231.7 L1394.0,231.7 L1403.4,231.6 L1412.9,231.6 L1422.3,231.6 L1431.8,231.6 L1441.2,231.5 L1450.7,231.5 L1460.1,231.5" fill="none" stroke="#6abd45" stroke-width="4.2" stroke-linejoin="round" stroke-linecap="butt"/>
<path d="M903.0,505.4 L912.5,505.4 L921.9,505.4 L931.4,505.4 L940.8,505.4 L950.2,505.4 L959.7,505.4 L969.1,505.4 L978.6,505.3 L988.0,504.9 L997.5,503.7 L1006.9,500.3 L1016.3,491.9 L1025.8,475.8 L1035.2,453.3 L1044.7,427.4 L1054.1,400.3 L1063.5,372.9 L1073.0,345.7 L1082.4,319.1 L1091.9,293.7 L1101.3,271.0 L1110.8,252.6 L1120.2,239.7 L1129.6,232.1 L1139.1,228.1 L1148.5,226.2 L1158.0,225.3 L1167.4,224.8 L1176.8,224.6 L1186.3,224.4 L1195.7,224.2 L1205.2,224.1 L1214.6,224.0 L1224.1,223.9 L1233.5,223.8 L1242.9,223.8 L1252.4,223.7 L1261.8,223.6 L1271.3,223.5 L1280.7,223.4 L1290.1,223.3 L1299.6,223.2 L1309.0,223.1 L1318.5,223.0 L1327.9,222.9 L1337.4,222.8 L1346.8,222.7 L1356.2,222.6 L1365.7,222.5 L1375.1,222.4 L1384.6,222.3 L1394.0,222.2 L1403.4,222.1 L1412.9,222.1 L1422.3,222.0 L1431.8,221.9 L1441.2,221.8 L1450.7,221.7 L1460.1,221.6" fill="none" stroke="#6abd45" stroke-width="4.2" stroke-linejoin="round" stroke-linecap="butt"/>
<path d="M903.0,505.4 L912.5,505.4 L921.9,505.4 L931.4,505.4 L940.8,505.4 L950.2,505.4 L959.7,505.4 L969.1,505.4 L978.6,505.4 L988.0,505.4 L997.5,505.2 L1006.9,504.5 L1016.3,502.4 L1025.8,495.9 L1035.2,481.0 L1044.7,457.6 L1054.1,429.5 L1063.5,399.8 L1073.0,369.7 L1082.4,339.9 L1091.9,310.9 L1101.3,284.6 L1110.8,263.5 L1120.2,250.1 L1129.6,243.6 L1139.1,241.0 L1148.5,240.0 L1158.0,239.7 L1167.4,239.6 L1176.8,239.5 L1186.3,239.5 L1195.7,239.5 L1205.2,239.5 L1214.6,239.5 L1224.1,239.5 L1233.5,239.5 L1242.9,239.5 L1252.4,239.5 L1261.8,239.5 L1271.3,239.5 L1280.7,239.5 L1290.1,239.5 L1299.6,239.5 L1309.0,239.5 L1318.5,239.5 L1327.9,239.5 L1337.4,239.5 L1346.8,239.5 L1356.2,239.5 L1365.7,239.5 L1375.1,239.5 L1384.6,239.5 L1394.0,239.5 L1403.4,239.5 L1412.9,239.5 L1422.3,239.5 L1431.8,239.5 L1441.2,239.5 L1450.7,239.5 L1460.1,239.5" fill="none" stroke="#6abd45" stroke-width="4.2" stroke-linejoin="round" stroke-linecap="butt"/>
<path d="M903.0,505.4 L912.5,505.4 L921.9,505.4 L931.4,505.4 L940.8,505.4 L950.2,505.4 L959.7,505.4 L969.1,505.4 L978.6,505.4 L988.0,505.4 L997.5,505.2 L1006.9,504.8 L1016.3,503.3 L1025.8,498.6 L1035.2,487.2 L1044.7,467.1 L1054.1,441.3 L1063.5,413.0 L1073.0,383.9 L1082.4,354.9 L1091.9,326.4 L1101.3,299.2 L1110.8,274.7 L1120.2,254.8 L1129.6,241.1 L1139.1,233.3 L1148.5,229.5 L1158.0,227.7 L1167.4,226.9 L1176.8,226.5 L1186.3,226.3 L1195.7,226.2 L1205.2,226.0 L1214.6,225.9 L1224.1,225.8 L1233.5,225.7 L1242.9,225.6 L1252.4,225.5 L1261.8,225.5 L1271.3,225.4 L1280.7,225.3 L1290.1,225.2 L1299.6,225.1 L1309.0,225.0 L1318.5,224.9 L1327.9,224.8 L1337.4,224.7 L1346.8,224.6 L1356.2,224.5 L1365.7,224.4 L1375.1,224.3 L1384.6,224.2 L1394.0,224.1 L1403.4,224.0 L1412.9,223.9 L1422.3,223.8 L1431.8,223.8 L1441.2,223.7 L1450.7,223.6 L1460.1,223.5" fill="none" stroke="#6abd45" stroke-width="4.2" stroke-linejoin="round" stroke-linecap="butt"/>
<path d="M903.0,505.4 L912.5,505.4 L921.9,505.4 L931.4,505.4 L940.8,505.4 L950.2,505.4 L959.7,505.4 L969.1,505.4 L978.6,505.4 L988.0,505.4 L997.5,505.2 L1006.9,504.7 L1016.3,503.3 L1025.8,499.3 L1035.2,489.4 L1044.7,471.9 L1054.1,448.5 L1063.5,422.2 L1073.0,395.0 L1082.4,367.6 L1091.9,340.6 L1101.3,314.4 L1110.8,290.6 L1120.2,271.3 L1129.6,258.3 L1139.1,251.3 L1148.5,248.2 L1158.0,246.9 L1167.4,246.4 L1176.8,246.2 L1186.3,246.2 L1195.7,246.1 L1205.2,246.1 L1214.6,246.1 L1224.1,246.1 L1233.5,246.1 L1242.9,246.1 L1252.4,246.1 L1261.8,246.1 L1271.3,246.1 L1280.7,246.1 L1290.1,246.1 L1299.6,246.1 L1309.0,246.1 L1318.5,246.1 L1327.9,246.1 L1337.4,246.1 L1346.8,246.1 L1356.2,246.1 L1365.7,246.1 L1375.1,246.1 L1384.6,246.1 L1394.0,246.1 L1403.4,246.1 L1412.9,246.1 L1422.3,246.1 L1431.8,246.1 L1441.2,246.1 L1450.7,246.1 L1460.1,246.1" fill="none" stroke="#6abd45" stroke-width="4.2" stroke-linejoin="round" stroke-linecap="butt"/>
<path d="M903.0,505.4 L912.5,505.4 L921.9,505.4 L931.4,505.4 L940.8,505.4 L950.2,505.4 L959.7,505.4 L969.1,505.4 L978.6,505.4 L988.0,505.4 L997.5,505.4 L1006.9,505.3 L1016.3,505.1 L1025.8,504.3 L1035.2,502.0 L1044.7,496.0 L1054.1,483.3 L1063.5,463.2 L1073.0,438.7 L1082.4,412.3 L1091.9,385.3 L1101.3,358.4 L1110.8,332.2 L1120.2,307.7 L1129.6,286.7 L1139.1,271.6 L1148.5,262.8 L1158.0,258.5 L1167.4,256.7 L1176.8,256.0 L1186.3,255.8 L1195.7,255.6 L1205.2,255.6 L1214.6,255.6 L1224.1,255.6 L1233.5,255.6 L1242.9,255.6 L1252.4,255.6 L1261.8,255.6 L1271.3,255.6 L1280.7,255.6 L1290.1,255.6 L1299.6,255.6 L1309.0,255.6 L1318.5,255.6 L1327.9,255.6 L1337.4,255.6 L1346.8,255.6 L1356.2,255.6 L1365.7,255.6 L1375.1,255.6 L1384.6,255.6 L1394.0,255.6 L1403.4,255.6 L1412.9,255.6 L1422.3,255.6 L1431.8,255.6 L1441.2,255.6 L1450.7,255.6 L1460.1,255.6" fill="none" stroke="#6abd45" stroke-width="4.2" stroke-linejoin="round" stroke-linecap="butt"/>
<path d="M903.0,505.4 L912.5,505.4 L921.9,505.4 L931.4,505.4 L940.8,505.4 L950.2,505.4 L959.7,505.4 L969.1,505.4 L978.6,505.4 L988.0,505.4 L997.5,505.4 L1006.9,505.4 L1016.3,505.4 L1025.8,505.4 L1035.2,505.4 L1044.7,505.4 L1054.1,497.4 L1063.5,485.4 L1073.0,472.2 L1082.4,456.5 L1091.9,436.9 L1101.3,414.4 L1110.8,390.1 L1120.2,363.7 L1129.6,335.4 L1139.1,308.0 L1148.5,283.4 L1158.0,263.1 L1167.4,248.5 L1176.8,238.6 L1186.3,233.2 L1195.7,229.1 L1205.2,225.2 L1214.6,222.1 L1224.1,219.5 L1233.5,218.3 L1242.9,218.8 L1252.4,219.7 L1261.8,220.2 L1271.3,220.6 L1280.7,221.0 L1290.1,221.1 L1299.6,221.1 L1309.0,221.1 L1318.5,221.0 L1327.9,221.0 L1337.4,220.9 L1346.8,220.8 L1356.2,220.8 L1365.7,220.7 L1375.1,220.6 L1384.6,220.5 L1394.0,220.3 L1403.4,220.3 L1412.9,220.2 L1422.3,220.1 L1431.8,220.0 L1441.2,219.9 L1450.7,219.8 L1460.1,219.7" fill="none" stroke="#6abd45" stroke-width="4.2" stroke-linejoin="round" stroke-linecap="butt"/>
<path d="M903.0,505.4 L912.5,505.4 L921.9,505.4 L931.4,505.4 L940.8,505.4 L950.2,505.4 L959.7,505.4 L969.1,505.4 L978.6,505.4 L988.0,505.4 L997.5,505.4 L1006.9,505.4 L1016.3,505.4 L1025.8,505.4 L1035.2,505.3 L1044.7,505.1 L1054.1,504.6 L1063.5,503.3 L1073.0,499.9 L1082.4,492.4 L1091.9,479.1 L1101.3,460.4 L1110.8,438.6 L1120.2,415.4 L1129.6,391.6 L1139.1,367.8 L1148.5,344.4 L1158.0,321.9 L1167.4,301.2 L1176.8,284.0 L1186.3,271.5 L1195.7,263.9 L1205.2,259.9 L1214.6,258.0 L1224.1,257.2 L1233.5,256.8 L1242.9,256.6 L1252.4,256.6 L1261.8,256.5 L1271.3,256.5 L1280.7,256.5 L1290.1,256.5 L1299.6,256.5 L1309.0,256.5 L1318.5,256.5 L1327.9,256.5 L1337.4,256.5 L1346.8,256.5 L1356.2,256.5 L1365.7,256.5 L1375.1,256.5 L1384.6,256.5 L1394.0,256.5 L1403.4,256.5 L1412.9,256.5 L1422.3,256.5 L1431.8,256.5 L1441.2,256.5 L1450.7,256.5 L1460.1,256.5" fill="none" stroke="#6abd45" stroke-width="4.2" stroke-linejoin="round" stroke-linecap="butt"/>
<path d="M903.0,505.4 L912.5,505.4 L921.9,505.4 L931.4,505.4 L940.8,505.4 L950.2,505.4 L959.7,505.4 L969.1,505.4 L978.6,505.4 L988.0,505.4 L997.5,505.4 L1006.9,505.4 L1016.3,505.4 L1025.8,505.4 L1035.2,505.4 L1044.7,505.3 L1054.1,505.0 L1063.5,504.2 L1073.0,502.2 L1082.4,497.3 L1091.9,487.4 L1101.3,471.6 L1110.8,451.3 L1120.2,428.7 L1129.6,405.1 L1139.1,381.2 L1148.5,357.3 L1158.0,333.7 L1167.4,310.8 L1176.8,289.5 L1186.3,271.1 L1195.7,257.1 L1205.2,248.2 L1214.6,243.3 L1224.1,240.9 L1233.5,239.9 L1242.9,239.4 L1252.4,239.2 L1261.8,239.1 L1271.3,239.1 L1280.7,239.1 L1290.1,239.1 L1299.6,239.1 L1309.0,239.1 L1318.5,239.1 L1327.9,239.1 L1337.4,239.1 L1346.8,239.1 L1356.2,239.1 L1365.7,239.1 L1375.1,239.1 L1384.6,239.1 L1394.0,239.1 L1403.4,239.1 L1412.9,239.1 L1422.3,239.1 L1431.8,239.1 L1441.2,239.1 L1450.7,239.1 L1460.1,239.1" fill="none" stroke="#6abd45" stroke-width="4.2" stroke-linejoin="round" stroke-linecap="butt"/>
<path d="M903.0,505.4 L912.5,505.4 L921.9,505.4 L931.4,505.4 L940.8,505.4 L950.2,505.4 L959.7,505.4 L969.1,505.4 L978.6,505.4 L988.0,505.4 L997.5,505.4 L1006.9,505.4 L1016.3,505.4 L1025.8,505.4 L1035.2,505.4 L1044.7,505.3 L1054.1,505.2 L1063.5,504.7 L1073.0,503.4 L1082.4,500.2 L1091.9,492.7 L1101.3,479.1 L1110.8,460.0 L1120.2,437.5 L1129.6,413.6 L1139.1,389.2 L1148.5,364.9 L1158.0,341.1 L1167.4,318.4 L1176.8,298.3 L1186.3,282.3 L1195.7,271.5 L1205.2,265.5 L1214.6,262.6 L1224.1,261.3 L1233.5,260.7 L1242.9,260.5 L1252.4,260.4 L1261.8,260.3 L1271.3,260.3 L1280.7,260.3 L1290.1,260.3 L1299.6,260.3 L1309.0,260.3 L1318.5,260.3 L1327.9,260.3 L1337.4,260.3 L1346.8,260.3 L1356.2,260.3 L1365.7,260.3 L1375.1,260.3 L1384.6,260.3 L1394.0,260.3 L1403.4,260.3 L1412.9,260.3 L1422.3,260.3 L1431.8,260.3 L1441.2,260.3 L1450.7,260.3 L1460.1,260.3" fill="none" stroke="#6abd45" stroke-width="4.2" stroke-linejoin="round" stroke-linecap="butt"/>
<path d="M903.0,505.4 L912.5,502.9 L921.9,500.4 L931.4,498.0 L940.8,495.6 L950.2,493.2 L959.7,490.9 L969.1,488.6 L978.6,486.3 L988.0,484.1 L997.5,481.8 L1006.9,479.7 L1016.3,478.1 L1025.8,476.8 L1035.2,475.6 L1044.7,474.4 L1054.1,473.2 L1063.5,471.7 L1073.0,469.5 L1082.4,466.2 L1091.9,459.5 L1101.3,450.8 L1110.8,440.1 L1120.2,423.0 L1129.6,402.1 L1139.1,376.6 L1148.5,351.0 L1158.0,325.8 L1167.4,303.1 L1176.8,283.2 L1186.3,269.9 L1195.7,260.3 L1205.2,255.6 L1214.6,252.5 L1224.1,250.4 L1233.5,249.4 L1242.9,249.1 L1252.4,248.8 L1261.8,248.6 L1271.3,248.4 L1280.7,248.1 L1290.1,248.0 L1299.6,247.8 L1309.0,247.6 L1318.5,247.5 L1327.9,247.4 L1337.4,247.3 L1346.8,247.2 L1356.2,247.1 L1365.7,247.0 L1375.1,247.0 L1384.6,246.9 L1394.0,246.8 L1403.4,246.7 L1412.9,246.7 L1422.3,246.6 L1431.8,246.5 L1441.2,246.4 L1450.7,246.3 L1460.1,246.1" fill="none" stroke="#6abd45" stroke-width="4.2" stroke-linejoin="round" stroke-linecap="butt"/>
<path d="M906.6,152.6 H947.3" stroke="#6abd45" stroke-width="4.2"/>
<path d="M906.6,203.9 H947.3" stroke="#eb1d25" stroke-width="4.2"/>
<text x="971.0" y="162.0" font-size="28" font-weight="bold"><tspan font-style="italic">C. neoformans</tspan> 1-13</text>
<text x="971.0" y="214.4" font-size="31" font-weight="bold"><tspan font-style="italic">C. gattii</tspan> 1-7</text>
<text x="6.0" y="614.2" font-size="31" font-weight="bold">C</text>
<rect x="252.0" y="644.5" width="1234.65" height="126.52" fill="#f8cad2"/>
<text x="6.5" y="667.1" font-size="23.2" font-weight="bold">Duplex FPIA in CF</text>
<text x="6.5" y="699.2" font-size="23.2" font-weight="bold">Sequencing in CF</text>
<text x="6.5" y="729.9" font-size="23.2" font-weight="bold">Duplex FPIA in BALF</text>
<text x="6.5" y="762.2" font-size="23.2" font-weight="bold">Sequencing in BALF</text>
<path d="M288.4,658.8 h11.6 M294.2,653.5 v10.6" stroke="#8e1a1a" stroke-width="2.7"/>
<path d="M288.4,690.4 h11.6 M294.2,685.1 v10.6" stroke="#8e1a1a" stroke-width="2.7"/>
<path d="M288.4,722.1 h11.6 M294.2,716.8 v10.6" stroke="#8e1a1a" stroke-width="2.7"/>
<path d="M288.4,753.7 h11.6 M294.2,748.4 v10.6" stroke="#8e1a1a" stroke-width="2.7"/>
<text transform="translate(293.9,793.8) scale(0.98,1.1)" font-size="22.5" font-weight="bold" text-anchor="middle">S1</text>
<path d="M370.7,658.8 h11.6 M376.5,653.5 v10.6" stroke="#8e1a1a" stroke-width="2.7"/>
<path d="M370.7,690.4 h11.6 M376.5,685.1 v10.6" stroke="#8e1a1a" stroke-width="2.7"/>
<path d="M370.7,722.1 h11.6 M376.5,716.8 v10.6" stroke="#8e1a1a" stroke-width="2.7"/>
<path d="M370.7,753.7 h11.6 M376.5,748.4 v10.6" stroke="#8e1a1a" stroke-width="2.7"/>
<text transform="translate(376.2,793.8) scale(0.98,1.1)" font-size="22.5" font-weight="bold" text-anchor="middle">S2</text>
<path d="M453.0,658.8 h11.6 M458.8,653.5 v10.6" stroke="#8e1a1a" stroke-width="2.7"/>
<path d="M453.0,690.4 h11.6 M458.8,685.1 v10.6" stroke="#8e1a1a" stroke-width="2.7"/>
<path d="M453.0,722.1 h11.6 M458.8,716.8 v10.6" stroke="#8e1a1a" stroke-width="2.7"/>
<path d="M453.0,753.7 h11.6 M458.8,748.4 v10.6" stroke="#8e1a1a" stroke-width="2.7"/>
<text transform="translate(458.5,793.8) scale(0.98,1.1)" font-size="22.5" font-weight="bold" text-anchor="middle">S3</text>
<path d="M535.3,658.8 h11.6 M541.1,653.5 v10.6" stroke="#8e1a1a" stroke-width="2.7"/>
<path d="M535.3,690.4 h11.6 M541.1,685.1 v10.6" stroke="#8e1a1a" stroke-width="2.7"/>
<path d="M535.3,722.1 h11.6 M541.1,716.8 v10.6" stroke="#8e1a1a" stroke-width="2.7"/>
<path d="M535.3,753.7 h11.6 M541.1,748.4 v10.6" stroke="#8e1a1a" stroke-width="2.7"/>
<text transform="translate(540.8,793.8) scale(0.98,1.1)" font-size="22.5" font-weight="bold" text-anchor="middle">S4</text>
<path d="M617.6,658.8 h11.6 M623.4,653.5 v10.6" stroke="#8e1a1a" stroke-width="2.7"/>
<path d="M617.6,690.4 h11.6 M623.4,685.1 v10.6" stroke="#8e1a1a" stroke-width="2.7"/>
<path d="M617.6,722.1 h11.6 M623.4,716.8 v10.6" stroke="#8e1a1a" stroke-width="2.7"/>
<path d="M617.6,753.7 h11.6 M623.4,748.4 v10.6" stroke="#8e1a1a" stroke-width="2.7"/>
<text transform="translate(623.1,793.8) scale(0.98,1.1)" font-size="22.5" font-weight="bold" text-anchor="middle">S5</text>
<path d="M699.9,658.8 h11.6 M705.7,653.5 v10.6" stroke="#8e1a1a" stroke-width="2.7"/>
<path d="M699.9,690.4 h11.6 M705.7,685.1 v10.6" stroke="#8e1a1a" stroke-width="2.7"/>
<path d="M699.9,722.1 h11.6 M705.7,716.8 v10.6" stroke="#8e1a1a" stroke-width="2.7"/>
<path d="M699.9,753.7 h11.6 M705.7,748.4 v10.6" stroke="#8e1a1a" stroke-width="2.7"/>
<text transform="translate(705.4,793.8) scale(0.98,1.1)" font-size="22.5" font-weight="bold" text-anchor="middle">S6</text>
<path d="M782.2,658.8 h11.6 M788.0,653.5 v10.6" stroke="#8e1a1a" stroke-width="2.7"/>
<path d="M782.2,690.4 h11.6 M788.0,685.1 v10.6" stroke="#8e1a1a" stroke-width="2.7"/>
<path d="M782.2,722.1 h11.6 M788.0,716.8 v10.6" stroke="#8e1a1a" stroke-width="2.7"/>
<path d="M782.2,753.7 h11.6 M788.0,748.4 v10.6" stroke="#8e1a1a" stroke-width="2.7"/>
<text transform="translate(787.7,793.8) scale(0.98,1.1)" font-size="22.5" font-weight="bold" text-anchor="middle">S7</text>
<path d="M864.5,658.8 h11.6 M870.3,653.5 v10.6" stroke="#8e1a1a" stroke-width="2.7"/>
<path d="M864.5,690.4 h11.6 M870.3,685.1 v10.6" stroke="#8e1a1a" stroke-width="2.7"/>
<path d="M864.5,722.1 h11.6 M870.3,716.8 v10.6" stroke="#8e1a1a" stroke-width="2.7"/>
<path d="M864.5,753.7 h11.6 M870.3,748.4 v10.6" stroke="#8e1a1a" stroke-width="2.7"/>
<text transform="translate(870.0,793.8) scale(0.98,1.1)" font-size="22.5" font-weight="bold" text-anchor="middle">S8</text>
<path d="M946.8,658.8 h11.6 M952.6,653.5 v10.6" stroke="#8e1a1a" stroke-width="2.7"/>
<path d="M946.8,690.4 h11.6 M952.6,685.1 v10.6" stroke="#8e1a1a" stroke-width="2.7"/>
<path d="M946.8,722.1 h11.6 M952.6,716.8 v10.6" stroke="#8e1a1a" stroke-width="2.7"/>
<path d="M946.8,753.7 h11.6 M952.6,748.4 v10.6" stroke="#8e1a1a" stroke-width="2.7"/>
<text transform="translate(952.3,793.8) scale(0.98,1.1)" font-size="22.5" font-weight="bold" text-anchor="middle">S9</text>
<path d="M1029.1,658.8 h11.6 M1034.9,653.5 v10.6" stroke="#8e1a1a" stroke-width="2.7"/>
<path d="M1029.1,690.4 h11.6 M1034.9,685.1 v10.6" stroke="#8e1a1a" stroke-width="2.7"/>
<path d="M1029.1,722.1 h11.6 M1034.9,716.8 v10.6" stroke="#8e1a1a" stroke-width="2.7"/>
<path d="M1029.1,753.7 h11.6 M1034.9,748.4 v10.6" stroke="#8e1a1a" stroke-width="2.7"/>
<text transform="translate(1034.6,793.8) scale(0.98,1.1)" font-size="22.5" font-weight="bold" text-anchor="middle">S10</text>
<path d="M1111.5,658.8 h11.6 M1117.3,653.5 v10.6" stroke="#8e1a1a" stroke-width="2.7"/>
<path d="M1111.5,690.4 h11.6 M1117.3,685.1 v10.6" stroke="#8e1a1a" stroke-width="2.7"/>
<path d="M1111.5,722.1 h11.6 M1117.3,716.8 v10.6" stroke="#8e1a1a" stroke-width="2.7"/>
<path d="M1111.5,753.7 h11.6 M1117.3,748.4 v10.6" stroke="#8e1a1a" stroke-width="2.7"/>
<text transform="translate(1117.0,793.8) scale(0.98,1.1)" font-size="22.5" font-weight="bold" text-anchor="middle">S11</text>
<path d="M1193.8,658.8 h11.6 M1199.6,653.5 v10.6" stroke="#8e1a1a" stroke-width="2.7"/>
<path d="M1193.8,690.4 h11.6 M1199.6,685.1 v10.6" stroke="#8e1a1a" stroke-width="2.7"/>
<path d="M1193.8,722.1 h11.6 M1199.6,716.8 v10.6" stroke="#8e1a1a" stroke-width="2.7"/>
<path d="M1193.8,753.7 h11.6 M1199.6,748.4 v10.6" stroke="#8e1a1a" stroke-width="2.7"/>
<text transform="translate(1199.3,793.8) scale(0.98,1.1)" font-size="22.5" font-weight="bold" text-anchor="middle">S12</text>
<path d="M1276.1,658.8 h11.6 M1281.9,653.5 v10.6" stroke="#8e1a1a" stroke-width="2.7"/>
<path d="M1276.1,690.4 h11.6 M1281.9,685.1 v10.6" stroke="#8e1a1a" stroke-width="2.7"/>
<path d="M1276.1,722.1 h11.6 M1281.9,716.8 v10.6" stroke="#8e1a1a" stroke-width="2.7"/>
<path d="M1276.1,753.7 h11.6 M1281.9,748.4 v10.6" stroke="#8e1a1a" stroke-width="2.7"/>
<text transform="translate(1281.6,793.8) scale(0.98,1.1)" font-size="22.5" font-weight="bold" text-anchor="middle">S13</text>
<path d="M1358.4,658.8 h11.6 M1364.2,653.5 v10.6" stroke="#8e1a1a" stroke-width="2.7"/>
<path d="M1358.4,690.4 h11.6 M1364.2,685.1 v10.6" stroke="#8e1a1a" stroke-width="2.7"/>
<path d="M1358.4,722.1 h11.6 M1364.2,716.8 v10.6" stroke="#8e1a1a" stroke-width="2.7"/>
<path d="M1358.4,753.7 h11.6 M1364.2,748.4 v10.6" stroke="#8e1a1a" stroke-width="2.7"/>
<text transform="translate(1363.9,793.8) scale(0.98,1.1)" font-size="22.5" font-weight="bold" text-anchor="middle">S14</text>
<path d="M1440.7,658.8 h11.6 M1446.5,653.5 v10.6" stroke="#8e1a1a" stroke-width="2.7"/>
<path d="M1440.7,690.4 h11.6 M1446.5,685.1 v10.6" stroke="#8e1a1a" stroke-width="2.7"/>
<path d="M1440.7,722.1 h11.6 M1446.5,716.8 v10.6" stroke="#8e1a1a" stroke-width="2.7"/>
<path d="M1440.7,753.7 h11.6 M1446.5,748.4 v10.6" stroke="#8e1a1a" stroke-width="2.7"/>
<text transform="translate(1446.2,793.8) scale(0.98,1.1)" font-size="22.5" font-weight="bold" text-anchor="middle">S15</text>
<rect x="252.0" y="803.4" width="1234.65" height="126.52" fill="#f8cad2"/>
<rect x="663.55" y="803.40" width="823.10" height="31.63" fill="#fcf0a8"/>
<rect x="663.55" y="866.66" width="823.10" height="31.63" fill="#fcf0a8"/>
<text x="6.5" y="825.9" font-size="23.2" font-weight="bold">Duplex FPIA in CF</text>
<text x="6.5" y="858.5" font-size="23.2" font-weight="bold">Sequencing in CF</text>
<text x="6.5" y="889.9" font-size="23.2" font-weight="bold">Duplex FPIA in BALF</text>
<text x="6.5" y="922.0" font-size="23.2" font-weight="bold">Sequencing in BALF</text>
<path d="M288.4,818.5 h11.6 M294.2,813.2 v10.6" stroke="#8e1a1a" stroke-width="2.7"/>
<path d="M288.4,850.1 h11.6 M294.2,844.8 v10.6" stroke="#8e1a1a" stroke-width="2.7"/>
<path d="M288.4,881.8 h11.6 M294.2,876.5 v10.6" stroke="#8e1a1a" stroke-width="2.7"/>
<path d="M288.4,913.4 h11.6 M294.2,908.1 v10.6" stroke="#8e1a1a" stroke-width="2.7"/>
<text transform="translate(294.4,953.5) scale(1.06,1.19)" font-size="22.5" font-weight="bold" text-anchor="middle">S16</text>
<path d="M370.7,818.5 h11.6 M376.5,813.2 v10.6" stroke="#8e1a1a" stroke-width="2.7"/>
<path d="M370.7,850.1 h11.6 M376.5,844.8 v10.6" stroke="#8e1a1a" stroke-width="2.7"/>
<path d="M370.7,881.8 h11.6 M376.5,876.5 v10.6" stroke="#8e1a1a" stroke-width="2.7"/>
<path d="M370.7,913.4 h11.6 M376.5,908.1 v10.6" stroke="#8e1a1a" stroke-width="2.7"/>
<text transform="translate(376.7,953.5) scale(1.06,1.19)" font-size="22.5" font-weight="bold" text-anchor="middle">S17</text>
<path d="M453.0,818.5 h11.6 M458.8,813.2 v10.6" stroke="#8e1a1a" stroke-width="2.7"/>
<path d="M453.0,850.1 h11.6 M458.8,844.8 v10.6" stroke="#8e1a1a" stroke-width="2.7"/>
<path d="M453.0,881.8 h11.6 M458.8,876.5 v10.6" stroke="#8e1a1a" stroke-width="2.7"/>
<path d="M453.0,913.4 h11.6 M458.8,908.1 v10.6" stroke="#8e1a1a" stroke-width="2.7"/>
<text transform="translate(459.0,953.5) scale(1.06,1.19)" font-size="22.5" font-weight="bold" text-anchor="middle">S18</text>
<path d="M535.3,818.5 h11.6 M541.1,813.2 v10.6" stroke="#8e1a1a" stroke-width="2.7"/>
<path d="M535.3,850.1 h11.6 M541.1,844.8 v10.6" stroke="#8e1a1a" stroke-width="2.7"/>
<path d="M535.3,881.8 h11.6 M541.1,876.5 v10.6" stroke="#8e1a1a" stroke-width="2.7"/>
<path d="M535.3,913.4 h11.6 M541.1,908.1 v10.6" stroke="#8e1a1a" stroke-width="2.7"/>
<text transform="translate(541.3,953.5) scale(1.06,1.19)" font-size="22.5" font-weight="bold" text-anchor="middle">S19</text>
<path d="M617.6,818.5 h11.6 M623.4,813.2 v10.6" stroke="#8e1a1a" stroke-width="2.7"/>
<path d="M617.6,850.1 h11.6 M623.4,844.8 v10.6" stroke="#8e1a1a" stroke-width="2.7"/>
<path d="M617.6,881.8 h11.6 M623.4,876.5 v10.6" stroke="#8e1a1a" stroke-width="2.7"/>
<path d="M617.6,913.4 h11.6 M623.4,908.1 v10.6" stroke="#8e1a1a" stroke-width="2.7"/>
<text transform="translate(623.6,953.5) scale(1.06,1.19)" font-size="22.5" font-weight="bold" text-anchor="middle">S20</text>
<rect x="703.5" y="819.3" width="6.3" height="2.7" fill="#985b20"/>
<path d="M699.9,850.1 h11.6 M705.7,844.8 v10.6" stroke="#8e1a1a" stroke-width="2.7"/>
<rect x="703.5" y="882.5" width="6.3" height="2.7" fill="#985b20"/>
<path d="M699.9,913.4 h11.6 M705.7,908.1 v10.6" stroke="#8e1a1a" stroke-width="2.7"/>
<text transform="translate(705.9,953.5) scale(1.06,1.19)" font-size="22.5" font-weight="bold" text-anchor="middle">S21</text>
<rect x="785.8" y="819.3" width="6.3" height="2.7" fill="#985b20"/>
<path d="M782.2,850.1 h11.6 M788.0,844.8 v10.6" stroke="#8e1a1a" stroke-width="2.7"/>
<rect x="785.8" y="882.5" width="6.3" height="2.7" fill="#985b20"/>
<path d="M782.2,913.4 h11.6 M788.0,908.1 v10.6" stroke="#8e1a1a" stroke-width="2.7"/>
<text transform="translate(788.2,953.5) scale(1.06,1.19)" font-size="22.5" font-weight="bold" text-anchor="middle">S22</text>
<rect x="868.1" y="819.3" width="6.3" height="2.7" fill="#985b20"/>
<path d="M864.5,850.1 h11.6 M870.3,844.8 v10.6" stroke="#8e1a1a" stroke-width="2.7"/>
<rect x="868.1" y="882.5" width="6.3" height="2.7" fill="#985b20"/>
<path d="M864.5,913.4 h11.6 M870.3,908.1 v10.6" stroke="#8e1a1a" stroke-width="2.7"/>
<text transform="translate(870.5,953.5) scale(1.06,1.19)" font-size="22.5" font-weight="bold" text-anchor="middle">S23</text>
<rect x="950.4" y="819.3" width="6.3" height="2.7" fill="#985b20"/>
<path d="M946.8,850.1 h11.6 M952.6,844.8 v10.6" stroke="#8e1a1a" stroke-width="2.7"/>
<rect x="950.4" y="882.5" width="6.3" height="2.7" fill="#985b20"/>
<path d="M946.8,913.4 h11.6 M952.6,908.1 v10.6" stroke="#8e1a1a" stroke-width="2.7"/>
<text transform="translate(952.8,953.5) scale(1.06,1.19)" font-size="22.5" font-weight="bold" text-anchor="middle">S24</text>
<rect x="1032.7" y="819.3" width="6.3" height="2.7" fill="#985b20"/>
<path d="M1029.1,850.1 h11.6 M1034.9,844.8 v10.6" stroke="#8e1a1a" stroke-width="2.7"/>
<rect x="1032.7" y="882.5" width="6.3" height="2.7" fill="#985b20"/>
<path d="M1029.1,913.4 h11.6 M1034.9,908.1 v10.6" stroke="#8e1a1a" stroke-width="2.7"/>
<text transform="translate(1035.1,953.5) scale(1.06,1.19)" font-size="22.5" font-weight="bold" text-anchor="middle">S25</text>
<rect x="1115.0" y="819.3" width="6.3" height="2.7" fill="#985b20"/>
<path d="M1111.5,850.1 h11.6 M1117.3,844.8 v10.6" stroke="#8e1a1a" stroke-width="2.7"/>
<rect x="1115.0" y="882.5" width="6.3" height="2.7" fill="#985b20"/>
<path d="M1111.5,913.4 h11.6 M1117.3,908.1 v10.6" stroke="#8e1a1a" stroke-width="2.7"/>
<text transform="translate(1117.5,953.5) scale(1.06,1.19)" font-size="22.5" font-weight="bold" text-anchor="middle">S26</text>
<rect x="1197.3" y="819.3" width="6.3" height="2.7" fill="#985b20"/>
<path d="M1193.8,850.1 h11.6 M1199.6,844.8 v10.6" stroke="#8e1a1a" stroke-width="2.7"/>
<rect x="1197.3" y="882.5" width="6.3" height="2.7" fill="#985b20"/>
<path d="M1193.8,913.4 h11.6 M1199.6,908.1 v10.6" stroke="#8e1a1a" stroke-width="2.7"/>
<text transform="translate(1199.8,953.5) scale(1.06,1.19)" font-size="22.5" font-weight="bold" text-anchor="middle">S27</text>
<rect x="1279.6" y="819.3" width="6.3" height="2.7" fill="#985b20"/>
<path d="M1276.1,850.1 h11.6 M1281.9,844.8 v10.6" stroke="#8e1a1a" stroke-width="2.7"/>
<rect x="1279.6" y="882.5" width="6.3" height="2.7" fill="#985b20"/>
<path d="M1276.1,913.4 h11.6 M1281.9,908.1 v10.6" stroke="#8e1a1a" stroke-width="2.7"/>
<text transform="translate(1282.1,953.5) scale(1.06,1.19)" font-size="22.5" font-weight="bold" text-anchor="middle">S28</text>
<rect x="1361.9" y="819.3" width="6.3" height="2.7" fill="#985b20"/>
<path d="M1358.4,850.1 h11.6 M1364.2,844.8 v10.6" stroke="#8e1a1a" stroke-width="2.7"/>
<rect x="1361.9" y="882.5" width="6.3" height="2.7" fill="#985b20"/>
<path d="M1358.4,913.4 h11.6 M1364.2,908.1 v10.6" stroke="#8e1a1a" stroke-width="2.7"/>
<text transform="translate(1364.4,953.5) scale(1.06,1.19)" font-size="22.5" font-weight="bold" text-anchor="middle">S29</text>
<rect x="1444.2" y="819.3" width="6.3" height="2.7" fill="#985b20"/>
<path d="M1440.7,850.1 h11.6 M1446.5,844.8 v10.6" stroke="#8e1a1a" stroke-width="2.7"/>
<rect x="1444.2" y="882.5" width="6.3" height="2.7" fill="#985b20"/>
<path d="M1440.7,913.4 h11.6 M1446.5,908.1 v10.6" stroke="#8e1a1a" stroke-width="2.7"/>
<text transform="translate(1446.7,953.5) scale(1.06,1.19)" font-size="22.5" font-weight="bold" text-anchor="middle">S30</text>
</svg>
</body></html>
